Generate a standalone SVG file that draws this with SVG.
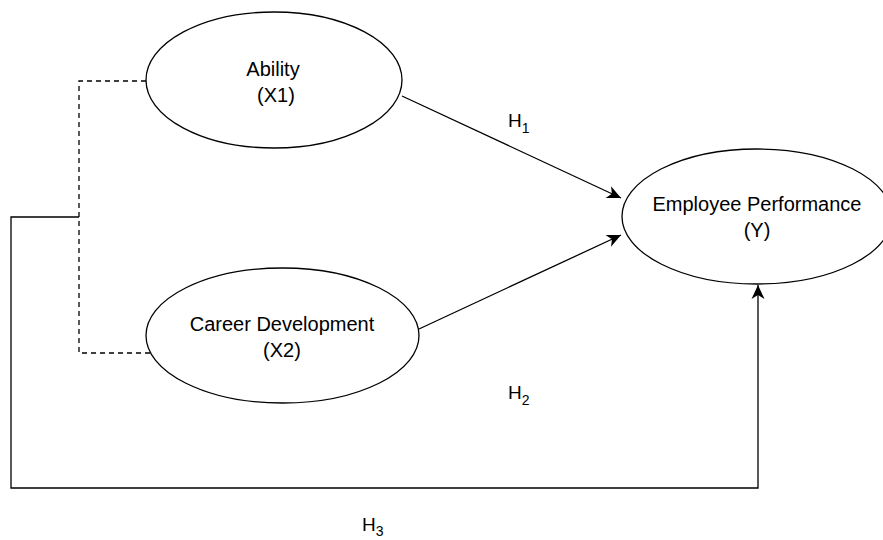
<svg xmlns="http://www.w3.org/2000/svg" width="883" height="540" viewBox="0 0 883 540">
<style>
.node ellipse{fill:#fff;stroke:#000;stroke-width:1.3}
.lbl{font-family:"Liberation Sans",Arial,sans-serif;font-size:20px;fill:#000;text-anchor:middle}
.h{font-family:"Liberation Sans",Arial,sans-serif;font-size:19px;fill:#000}
.sub{font-size:14px}
.edge{fill:none;stroke:#000;stroke-width:1.3}
.dash{stroke-dasharray:5 4}
</style>
<defs>
<marker id="arr" markerUnits="userSpaceOnUse" viewBox="-15 -7 16 14" refX="0" refY="0" markerWidth="16" markerHeight="14" orient="auto">
<path d="M0,0 L-14,-6.5 L-10,0 L-14,6.5 Z" fill="#000"/>
</marker>
</defs>
<rect width="883" height="540" fill="#fff"/>
<g id="connectors">
<path class="edge dash" d="M146,81 H79 V353 H150"/>
<path class="edge" d="M79,217 H11 V488 H758 V285" marker-end="url(#arr)"/>
<path class="edge" d="M402,96 L621,198" marker-end="url(#arr)"/>
<path class="edge" d="M419,329 L621,235" marker-end="url(#arr)"/>
</g>
<g id="ability" class="node">
<ellipse cx="274" cy="80" rx="128" ry="68"/>
<text class="lbl" x="273" y="76">Ability</text>
<text class="lbl" x="276" y="102">(X1)</text>
</g>
<g id="career" class="node">
<ellipse cx="282.5" cy="335.5" rx="136.5" ry="67.5"/>
<text class="lbl" x="282" y="331">Career Development</text>
<text class="lbl" x="282" y="357">(X2)</text>
</g>
<g id="performance" class="node">
<ellipse cx="757" cy="216.5" rx="135" ry="67.5"/>
<text class="lbl" x="757" y="211">Employee Performance</text>
<text class="lbl" x="757" y="237">(Y)</text>
</g>
<g id="labels">
<text class="h" x="508" y="127">H<tspan class="sub" dy="6">1</tspan></text>
<text class="h" x="508" y="399">H<tspan class="sub" dy="6">2</tspan></text>
<text class="h" x="362" y="531">H<tspan class="sub" dy="5">3</tspan></text>
</g>
</svg>
